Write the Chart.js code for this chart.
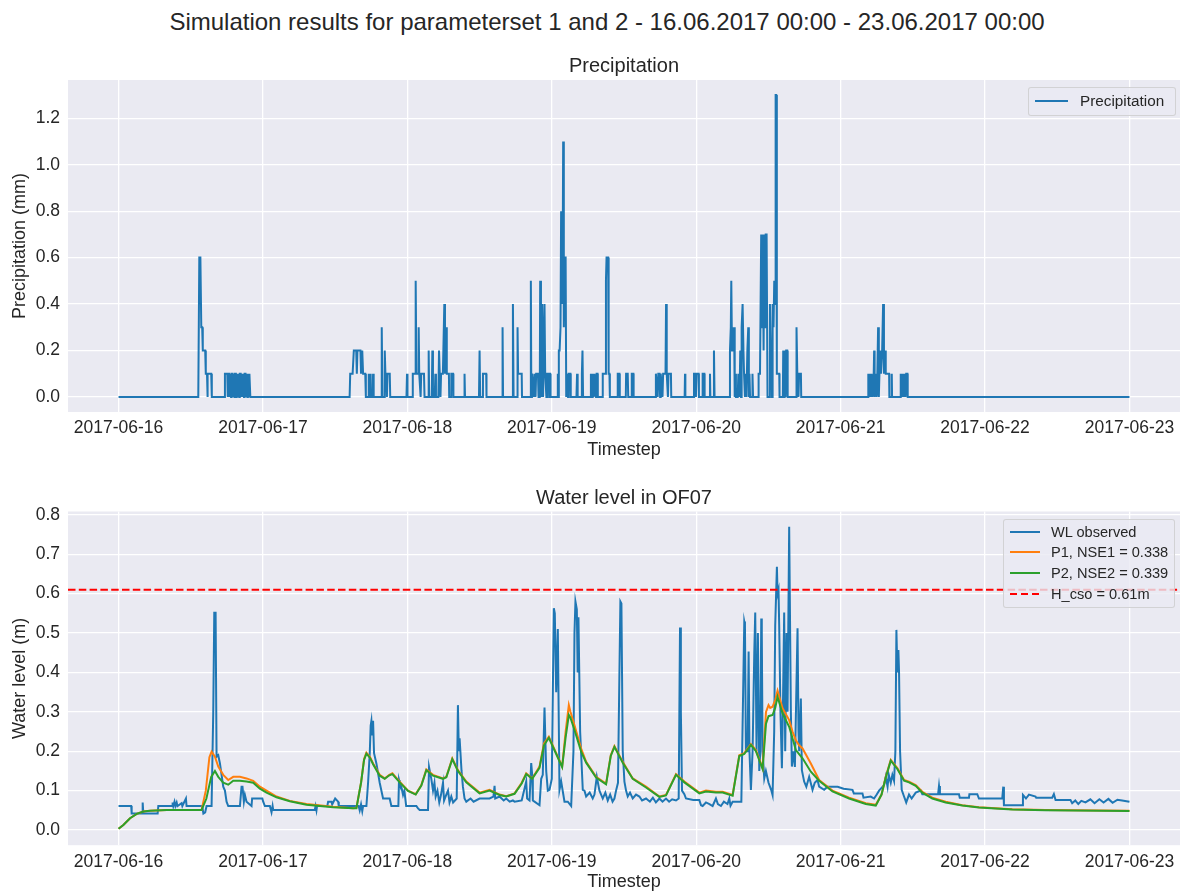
<!DOCTYPE html>
<html>
<head>
<meta charset="utf-8">
<title>Simulation results</title>
<script src="https://cdn.jsdelivr.net/npm/chart.js@4.4.0/dist/chart.umd.min.js"></script>
<style>
  body { margin: 0; width: 1181px; height: 891px; position: relative; overflow: hidden; background: #fff;
         font-family: "Liberation Sans", Arial, sans-serif; color: #262626; }
  canvas { position: absolute; left: 0; }
  .txt { position: absolute; white-space: nowrap; transform: translate(-50%, -50%); z-index: 2; }
  .legend { position: absolute; box-sizing: border-box; background: rgba(234, 234, 242, 0.8);
            border: 1px solid rgba(204, 204, 204, 0.8); border-radius: 3px; z-index: 2; }
  .legend .sw { position: absolute; height: 2px; }
  .legend .lbl { position: absolute; white-space: nowrap; transform: translateY(-50%); }
</style>
</head>
<body>
<div class="txt" style="left:607px; top:22px; font-size:24px;">Simulation results for parameterset 1 and 2 - 16.06.2017 00:00 - 23.06.2017 00:00</div>
<div class="txt" style="left:624px; top:65px; font-size:20px;">Precipitation</div>
<div class="txt" style="left:624px; top:497px; font-size:20px;">Water level in OF07</div>

<canvas id="chart-precip" width="1181" height="401" style="top:60px; width:1181px; height:401px;"></canvas>
<canvas id="chart-level" width="1181" height="401" style="top:492px; width:1181px; height:401px;"></canvas>

<div class="legend" id="legend-precip" style="left:1028px; top:87px; width:148px; height:29px; font-size:15.3px;"></div>
<div class="legend" id="legend-level" style="left:1003px; top:519px; width:172px; height:89px; font-size:14.6px;"></div>

<script>
// 横軸: 2017-06-16 00:00 からの経過時間 [h]
const dayTicks = [0, 24, 48, 72, 96, 120, 144, 168];
const dayLabels = ['2017-06-16', '2017-06-17', '2017-06-18', '2017-06-19',
                   '2017-06-20', '2017-06-21', '2017-06-22', '2017-06-23'];
const precipTicks = [0, 0.2, 0.4, 0.6, 0.8, 1.0, 1.2];
const levelTicks = [0, 0.1, 0.2, 0.3, 0.4, 0.5, 0.6, 0.7, 0.8];
const hCso = 0.61;

// 降水量 [h, mm]
const precipSeries = [
  [0,0],[13.25,0],[13.42,0.6],[13.6,0.6],[13.75,0.3],[13.9,0.3],[14.0,0.2],[14.4,0.2],[14.5,0.1],[14.7,0.1],[14.75,0],[14.85,0.1],[15.4,0.1],[15.5,0],
  [17.6,0],[17.68,0.1],[18.07,0.1],[18.15,0],[18.25,0.1],[18.4,0.1],[18.45,0],[18.55,0.1],[18.7,0],[18.8,0.1],[18.95,0.1],[19.0,0],[19.1,0.1],[19.25,0],
  [19.35,0.1],[19.5,0.1],[19.55,0],[19.65,0.1],[19.8,0],[19.9,0.1],[20.05,0],[20.15,0.1],[20.3,0.1],[20.35,0],[20.45,0.1],[20.6,0],[20.7,0.1],[20.85,0],
  [20.95,0.1],[21.1,0.1],[21.15,0],[21.25,0.1],[21.4,0],[21.5,0.1],[21.65,0],[21.75,0.1],[21.83,0.1],[21.9,0],
  [38.4,0],[38.5,0.1],[38.9,0.1],[39.1,0.2],[39.5,0.2],[39.6,0.1],[39.7,0.2],[40.2,0.2],[40.3,0.1],[40.5,0.2],[40.64,0.1],[41.0,0.1],[41.1,0],
  [41.5,0],[41.58,0.1],[41.65,0],[41.8,0.1],[41.9,0],[42.2,0],[42.3,0.1],[42.4,0],
  [43.65,0],[43.74,0.3],[43.85,0],[44.15,0],[44.24,0.2],[44.35,0.1],[44.5,0.1],[44.6,0],[44.7,0.1],[45.07,0.1],[45.15,0],
  [47.85,0],[47.94,0.1],[48.02,0],[48.85,0],[48.9,0.1],[49.27,0.1],[49.38,0.5],[49.5,0.1],[49.8,0.1],[49.88,0.3],[49.97,0.1],[50.2,0],[50.3,0.1],[50.76,0.1],[50.85,0],
  [51.45,0],[51.54,0.2],[51.62,0],[52.05,0],[52.15,0.2],[52.25,0],[52.55,0],[52.65,0.1],[52.75,0],[53.15,0],[53.26,0.2],[53.4,0.2],[53.5,0],[53.6,0.1],[53.9,0.1],
  [54.14,0.4],[54.25,0.1],[54.47,0.3],[54.55,0.1],[54.9,0.1],[54.95,0],[55.25,0],[55.3,0.1],[55.6,0.1],[55.65,0],
  [57.42,0],[57.5,0.1],[57.58,0],[59.9,0],[60.0,0.2],[60.1,0],[60.5,0],[60.56,0.1],[61.1,0.1],[61.15,0],
  [63.75,0],[63.82,0.3],[63.9,0],[65.45,0],[65.54,0.4],[65.65,0],[66.25,0],[66.31,0.3],[66.4,0.1],[67.0,0.1],[67.05,0],
  [68.45,0],[68.52,0.5],[68.6,0],[68.7,0.1],[69.0,0],[69.1,0.1],[69.3,0],[69.4,0.1],[69.7,0.1],[69.8,0],[70.0,0],[70.07,0.5],[70.2,0.3],[70.3,0],
  [70.4,0.4],[70.55,0],[70.79,0.4],[70.9,0.1],[71.1,0],[71.2,0.1],[71.5,0.1],[71.55,0],[71.65,0.1],[71.73,0.1],[71.8,0],
  [72.95,0],[73.0,0.1],[73.08,0],[73.17,0.2],[73.3,0.2],[73.45,0.3],[73.55,0.8],[73.67,0.8],[73.78,0.4],[73.89,1.1],[74.0,0.3],[74.1,0.6],[74.3,0.6],[74.4,0],
  [74.55,0.1],[74.7,0],[74.8,0.1],[75.1,0.1],[75.15,0],
  [76.1,0],[76.2,0.1],[76.3,0],[76.95,0],[77.0,0.1],[77.1,0.2],[77.2,0],
  [78.45,0],[78.5,0.1],[78.7,0],[78.8,0.1],[79.0,0],[79.1,0.1],[79.35,0],[79.45,0.1],[79.6,0.1],[79.65,0],
  [80.4,0],[80.47,0.1],[80.9,0.1],[81.0,0.5],[81.1,0.6],[81.36,0.6],[81.45,0.1],[81.58,0.1],[81.65,0],
  [82.9,0],[82.96,0.1],[83.24,0.1],[83.3,0],[84.3,0],[84.35,0.1],[84.62,0.1],[84.7,0],[85.25,0],[85.29,0.1],[85.56,0.1],[85.6,0],
  [89.25,0],[89.3,0.1],[89.6,0],[89.7,0.1],[89.9,0.1],[90.0,0],[90.1,0.1],[90.4,0],[90.5,0.1],[90.9,0.1],[90.99,0.4],[91.1,0.1],[91.3,0],[91.4,0.1],[91.8,0.1],[91.85,0],
  [94.08,0],[94.14,0.1],[94.2,0],
  [95.58,0],[95.63,0.1],[95.9,0.1],[95.95,0],[96.05,0.1],[96.4,0.1],[96.45,0],[97.0,0],[97.07,0.1],[97.35,0.1],[97.4,0],[98.22,0],[98.29,0.1],[98.35,0],
  [98.88,0],[98.95,0.2],[99.05,0],
  [101.5,0],[101.61,0.2],[101.75,0.3],[101.83,0.5],[101.95,0.2],[102.05,0.3],[102.15,0.2],[102.3,0.3],[102.4,0],[102.5,0.1],[102.6,0],[102.9,0],[103.0,0.1],
  [103.2,0],[103.32,0.2],[103.45,0],[103.55,0.3],[103.71,0.4],[103.85,0.2],[103.95,0.1],[104.1,0],[104.2,0.1],[104.35,0],[104.5,0.2],[104.65,0.3],[104.75,0],
  [104.85,0.1],[104.95,0],[105.3,0],[105.35,0.1],[105.45,0],
  [106.3,0],[106.37,0.1],[106.6,0.1],[106.8,0.7],[106.95,0.3],[107.05,0.7],[107.2,0.2],[107.3,0.7],[107.45,0.3],[107.55,0.7],[107.7,0.7],[107.85,0],
  [108.1,0],[108.25,0.4],[108.4,0.2],[108.52,0.2],[108.6,0],[108.7,0.4],[108.85,0.3],[108.97,0.5],[109.1,0.4],[109.2,1.3],[109.3,1.3],[109.4,0.1],[109.8,0.1],[109.85,0],
  [110.4,0],[110.46,0.2],[110.6,0],[110.7,0.2],[110.85,0],[110.95,0.2],[111.12,0.2],[111.2,0],
  [112.6,0],[112.67,0.3],[112.8,0.1],[113.0,0],[113.1,0.1],[113.4,0.1],[113.45,0],
  [124.55,0],[124.6,0.1],[124.8,0],[124.9,0.1],[125.0,0],[125.15,0.1],[125.3,0],[125.5,0.1],[125.57,0.2],[125.65,0],[125.85,0.1],[126.0,0],[126.1,0.1],
  [126.23,0.3],[126.35,0],[126.45,0.1],[126.6,0.2],[126.7,0.1],[126.9,0.2],[127.06,0.4],[127.2,0.1],[127.39,0.2],[127.5,0.1],[128.06,0.1],[128.1,0],
  [128.45,0],[128.5,0.1],[128.55,0],
  [129.95,0],[129.99,0.1],[130.2,0],[130.3,0.1],[130.5,0],[130.6,0.1],[130.8,0],[130.9,0.1],[131.1,0.1],[131.15,0],[168,0]
];

// 水位 観測値 [h, m]
const observedSeries = [
  [0,0.061],[2.1,0.061],[2.18,0.042],[3.9,0.042],[4.01,0.07],[4.12,0.042],[6.5,0.042],[6.61,0.061],[8.9,0.061],[8.99,0.07],[9.1,0.061],[9.3,0.072],
  [9.45,0.061],[9.66,0.07],[9.8,0.061],[10.48,0.068],[10.6,0.061],[11.2,0.08],[11.3,0.061],[13.9,0.061],[14.1,0.042],[14.4,0.045],[14.63,0.061],[15.46,0.061],
  [15.74,0.3],[15.91,0.554],[16.02,0.54],[16.13,0.554],[16.29,0.186],[16.57,0.19],[16.85,0.169],[17.4,0.11],[17.68,0.1],[17.95,0.072],[18.23,0.061],
  [20.17,0.061],[20.44,0.11],[20.6,0.11],[20.83,0.072],[21.0,0.089],[21.27,0.072],[22.1,0.061],[22.2,0.08],[23.9,0.08],[24.04,0.072],[24.32,0.061],
  [25.15,0.061],[25.42,0.045],[25.6,0.061],[25.7,0.051],[32.61,0.051],[32.75,0.061],[32.89,0.05],[33.0,0.062],[33.44,0.061],[34.7,0.061],[34.83,0.072],
  [35.4,0.072],[35.5,0.065],[35.66,0.07],[36.0,0.08],[36.49,0.072],[36.6,0.061],[39.9,0.061],[40.08,0.05],[40.3,0.065],[40.5,0.048],[40.64,0.061],
  [41.19,0.061],[41.47,0.12],[41.75,0.196],[41.9,0.265],[42.02,0.277],[42.15,0.24],[42.3,0.277],[42.46,0.195],[42.85,0.169],[43.4,0.12],[43.96,0.08],
  [45.06,0.08],[45.34,0.061],[46.5,0.061],[46.61,0.127],[46.72,0.12],[47.0,0.11],[47.28,0.089],[47.5,0.1],[47.8,0.061],[49.49,0.061],[49.77,0.055],
  [50.04,0.051],[51.43,0.051],[51.6,0.16],[51.98,0.13],[52.26,0.1],[52.5,0.12],[52.7,0.085],[53.0,0.1],[53.3,0.07],[53.6,0.09],[53.92,0.12],[54.1,0.075],
  [54.47,0.09],[54.75,0.1],[55.0,0.07],[55.3,0.085],[55.6,0.07],[56.2,0.08],[56.4,0.317],[56.55,0.2],[56.68,0.233],[57.0,0.15],[57.23,0.11],[57.5,0.08],
  [57.79,0.072],[58.5,0.08],[59.0,0.072],[60.0,0.08],[61.66,0.08],[62.3,0.085],[62.49,0.112],[62.6,0.08],[63.32,0.085],[64.0,0.075],[64.43,0.08],
  [65.0,0.072],[65.53,0.075],[65.81,0.072],[67.0,0.075],[67.75,0.123],[67.9,0.08],[68.3,0.075],[68.58,0.17],[68.74,0.14],[68.85,0.075],[69.13,0.072],
  [69.96,0.063],[70.24,0.13],[70.5,0.14],[70.79,0.311],[71.07,0.15],[71.34,0.1],[71.62,0.102],[72.0,0.13],[72.34,0.563],[72.5,0.55],[72.73,0.35],
  [73.0,0.51],[73.28,0.102],[73.56,0.123],[74.11,0.072],[74.66,0.072],[75.22,0.061],[75.6,0.2],[75.77,0.5],[75.93,0.58],[76.16,0.56],[76.3,0.4],
  [76.43,0.54],[76.71,0.25],[77.15,0.102],[77.43,0.1],[77.71,0.085],[78.3,0.095],[78.8,0.08],[79.09,0.09],[79.48,0.135],[79.92,0.1],[80.47,0.08],
  [80.9,0.095],[81.3,0.075],[81.7,0.09],[82.1,0.072],[82.41,0.08],[82.68,0.1],[83.0,0.12],[83.24,0.4],[83.4,0.58],[83.57,0.575],[83.79,0.2],
  [84.07,0.123],[84.34,0.1],[84.62,0.085],[85.0,0.095],[85.45,0.08],[86.0,0.09],[86.56,0.085],[87.0,0.075],[87.66,0.08],[88.3,0.072],[88.8,0.082],
  [89.3,0.07],[89.88,0.08],[90.4,0.072],[90.98,0.08],[91.5,0.072],[92.0,0.078],[92.64,0.075],[93.09,0.08],[93.2,0.3],[93.31,0.514],[93.45,0.3],
  [93.64,0.1],[94.03,0.091],[94.3,0.08],[95.5,0.076],[96.52,0.076],[96.8,0.063],[97.07,0.061],[97.62,0.07],[98.2,0.066],[98.73,0.061],[99.28,0.08],
  [99.6,0.066],[100.11,0.061],[100.6,0.072],[101.2,0.066],[101.5,0.08],[101.7,0.062],[102.05,0.072],[103.5,0.072],[103.99,0.529],[104.1,0.52],
  [104.26,0.2],[104.54,0.2],[104.71,0.453],[104.85,0.2],[105.09,0.102],[105.37,0.2],[105.65,0.45],[105.81,0.552],[106.03,0.2],[106.25,0.5],
  [106.48,0.15],[106.65,0.2],[106.81,0.537],[106.9,0.5],[107.03,0.2],[107.31,0.131],[107.58,0.15],[108.02,0.12],[108.5,0.1],[108.69,0.089],
  [108.96,0.25],[109.13,0.52],[109.41,0.668],[109.52,0.6],[109.68,0.61],[109.79,0.52],[110.0,0.3],[110.24,0.157],[110.4,0.3],[110.62,0.552],
  [110.79,0.2],[111.01,0.5],[111.18,0.3],[111.45,0.77],[111.73,0.3],[111.9,0.161],[112.12,0.2],[112.4,0.16],[112.84,0.512],[113.0,0.25],[113.11,0.2],
  [113.39,0.334],[113.56,0.152],[113.94,0.123],[114.3,0.11],[114.77,0.135],[115.33,0.102],[115.7,0.12],[116.16,0.127],[116.43,0.11],[117.26,0.102],
  [117.82,0.11],[119.5,0.11],[120.5,0.105],[121.97,0.102],[122.2,0.093],[123.63,0.093],[123.8,0.082],[125.0,0.085],[125.56,0.08],[126.0,0.09],
  [126.39,0.1],[127.22,0.114],[127.5,0.135],[127.8,0.11],[128.0,0.14],[128.33,0.12],[128.6,0.14],[128.88,0.125],[129.1,0.2],[129.27,0.508],[129.43,0.4],
  [129.6,0.457],[129.71,0.4],[129.88,0.2],[130.15,0.102],[130.54,0.085],[130.9,0.07],[131.37,0.09],[131.8,0.08],[132.48,0.095],[133.31,0.1],
  [133.58,0.091],[136.2,0.091],[136.35,0.112],[136.5,0.091],[139.67,0.091],[139.8,0.082],[141.33,0.082],[141.4,0.091],[142.71,0.091],[142.99,0.08],
  [146.86,0.08],[147.03,0.11],[147.14,0.063],[150.18,0.063],[150.3,0.089],[150.8,0.08],[151.3,0.09],[152.39,0.085],[152.5,0.082],[155.16,0.082],
  [155.44,0.091],[155.72,0.076],[158.2,0.076],[158.48,0.068],[159.0,0.075],[159.5,0.066],[160.0,0.074],[160.69,0.07],[161.5,0.078],[162.2,0.068],
  [163.0,0.078],[163.7,0.07],[164.5,0.079],[165.2,0.069],[166.0,0.077],[166.78,0.075],[168,0.072]
];

// シミュレーション P1 [h, m]
const p1Series = [
  [0,0.003],[0.8,0.013],[1.91,0.03],[3.02,0.041],[4.12,0.047],[5.23,0.049],[8.0,0.051],[13.8,0.051],[14.5,0.1],[15.1,0.185],[15.46,0.199],[16.02,0.186],
  [16.57,0.161],[17.4,0.14],[18.23,0.127],[19.06,0.135],[20.17,0.135],[21.27,0.131],[22.38,0.125],[23.49,0.11],[24.59,0.1],[26.25,0.085],[28.46,0.074],
  [31.23,0.066],[35.66,0.059],[38.98,0.055],[39.53,0.056],[40.3,0.12],[40.8,0.18],[41.19,0.196],[41.8,0.185],[42.3,0.169],[43.4,0.14],[44.23,0.131],
  [45.0,0.14],[45.51,0.144],[46.72,0.123],[48.11,0.1],[49.38,0.091],[50.32,0.114],[51.15,0.154],[52.26,0.14],[53.92,0.131],[54.47,0.135],[55.46,0.182],
  [56.4,0.152],[57.79,0.123],[60.0,0.095],[61.66,0.102],[63.32,0.09],[64.43,0.086],[65.81,0.093],[67.0,0.12],[67.75,0.144],[68.74,0.131],[69.96,0.161],
  [70.7,0.22],[71.51,0.237],[72.73,0.195],[73.72,0.161],[74.3,0.25],[74.83,0.317],[75.1,0.3],[75.77,0.266],[76.88,0.207],[77.71,0.173],[79.36,0.135],
  [81.02,0.118],[81.8,0.19],[82.41,0.213],[83.79,0.173],[85.45,0.131],[87.66,0.11],[89.88,0.085],[90.98,0.089],[92.64,0.142],[94.03,0.123],[96.52,0.095],
  [97.62,0.1],[99.28,0.097],[100.4,0.097],[102.05,0.089],[103.16,0.19],[103.99,0.195],[105.09,0.218],[105.92,0.203],[107.03,0.157],[107.6,0.3],
  [108.02,0.317],[108.3,0.31],[108.69,0.313],[109.13,0.33],[109.52,0.354],[110.35,0.309],[111.45,0.279],[112.0,0.25],[112.56,0.228],[113.1,0.215],
  [113.67,0.207],[115.05,0.169],[116.43,0.127],[118.65,0.1],[121.41,0.082],[124.18,0.068],[125.84,0.064],[126.8,0.09],[127.5,0.135],[128.33,0.178],
  [129.43,0.157],[130.54,0.127],[131.37,0.123],[132.48,0.114],[133.58,0.097],[135.24,0.082],[137.46,0.072],[140.22,0.063],[142.99,0.058],[148.52,0.053],
  [154.05,0.051],[168,0.049]
];

// シミュレーション P2 [h, m]
const p2Series = [
  [0,0.003],[0.8,0.013],[1.91,0.03],[3.02,0.041],[4.12,0.047],[5.23,0.049],[8.0,0.051],[13.8,0.051],[14.6,0.08],[15.4,0.135],[16.02,0.15],[16.57,0.135],
  [16.85,0.13],[17.4,0.12],[18.23,0.115],[19.06,0.125],[20.17,0.125],[21.27,0.123],[22.38,0.12],[23.49,0.105],[24.59,0.095],[26.25,0.083],[28.46,0.073],
  [31.23,0.064],[35.66,0.058],[38.98,0.055],[39.53,0.055],[40.3,0.12],[40.8,0.178],[41.19,0.194],[41.8,0.183],[42.3,0.167],[43.4,0.138],[44.23,0.13],
  [45.0,0.139],[45.51,0.142],[46.72,0.121],[48.11,0.099],[49.38,0.09],[50.32,0.113],[51.15,0.152],[52.26,0.138],[53.92,0.13],[54.47,0.134],[55.46,0.18],
  [56.4,0.15],[57.79,0.121],[60.0,0.093],[61.66,0.1],[63.32,0.089],[64.43,0.085],[65.81,0.092],[67.0,0.118],[67.75,0.142],[68.74,0.13],[69.96,0.158],
  [70.7,0.215],[71.51,0.234],[72.73,0.193],[73.72,0.16],[74.3,0.235],[74.83,0.292],[75.1,0.285],[75.77,0.254],[76.88,0.199],[77.71,0.171],[79.36,0.133],
  [81.02,0.116],[81.8,0.188],[82.41,0.211],[83.79,0.171],[85.45,0.13],[87.66,0.108],[89.88,0.084],[90.98,0.088],[92.64,0.14],[94.03,0.121],[96.52,0.093],
  [97.62,0.098],[99.28,0.095],[100.4,0.095],[102.05,0.087],[103.16,0.188],[103.99,0.193],[105.09,0.216],[105.92,0.2],[107.03,0.155],[107.6,0.27],
  [108.02,0.289],[108.69,0.292],[109.13,0.31],[109.52,0.338],[110.35,0.296],[111.45,0.262],[112.56,0.203],[113.67,0.182],[115.05,0.148],[116.43,0.125],
  [118.65,0.098],[121.41,0.08],[124.18,0.066],[125.84,0.062],[126.8,0.09],[127.5,0.133],[128.33,0.176],[129.43,0.155],[130.54,0.125],[131.37,0.121],
  [132.48,0.112],[133.58,0.095],[135.24,0.08],[137.46,0.07],[140.22,0.062],[142.99,0.057],[148.52,0.052],[154.05,0.05],[168,0.048]
];

const FONT = '"Liberation Sans", Arial, sans-serif';
const TEXT = '#262626';
const X_MIN = -8.4, X_MAX = 176.4;

const toPoints = series => series.map(([x, y]) => ({ x, y }));

// 描画領域の背景（seaborn darkgrid 風）
const areaBg = {
  id: 'areaBg',
  beforeDraw(chart) {
    const { ctx, chartArea: a } = chart;
    ctx.save();
    ctx.fillStyle = '#eaeaf2';
    ctx.fillRect(a.left, a.top, a.right - a.left, a.bottom - a.top);
    ctx.restore();
  }
};

function buildOptions(cfg) {
  return {
    responsive: false,
    animation: false,
    events: [],
    layout: { padding: { top: cfg.padTop, right: 1, left: 0, bottom: 0 } },
    elements: { point: { radius: 0 }, line: { tension: 0 } },
    plugins: { legend: { display: false }, tooltip: { enabled: false } },
    scales: {
      x: {
        type: 'linear', min: X_MIN, max: X_MAX,
        afterBuildTicks: s => { s.ticks = dayTicks.map(v => ({ value: v })); },
        afterFit: s => { s.height = cfg.xHeight; },
        ticks: { callback: (v, i) => dayLabels[i], maxRotation: 0, autoSkip: false, padding: 6,
                 color: TEXT, font: { family: FONT, size: 17.5 } },
        grid: { color: '#ffffff', lineWidth: 1.3, drawTicks: false },
        border: { display: false },
        title: { display: true, text: 'Timestep', color: TEXT, padding: 0, font: { family: FONT, size: 18 } }
      },
      y: {
        type: 'linear', min: cfg.yMin, max: cfg.yMax,
        afterBuildTicks: s => { s.ticks = cfg.yTicks.map(v => ({ value: v })); },
        afterFit: s => { s.width = 68; },
        ticks: { callback: (v, i) => cfg.yTicks[i].toFixed(1), padding: 8,
                 color: TEXT, font: { family: FONT, size: 17.5 } },
        grid: { color: '#ffffff', lineWidth: 1.3, drawTicks: false },
        border: { display: false },
        title: { display: true, text: cfg.yTitle, color: TEXT, padding: { top: 9, bottom: 0 },
                 font: { family: FONT, size: 18 } }
      }
    }
  };
}

new Chart(document.getElementById('chart-precip'), {
  type: 'line',
  data: {
    datasets: [{
      label: 'Precipitation',
      data: toPoints(precipSeries),
      borderColor: '#1f77b4', borderWidth: 2, fill: false
    }]
  },
  options: buildOptions({ padTop: 20, xHeight: 49, yMin: -0.065, yMax: 1.365,
                          yTicks: precipTicks, yTitle: 'Precipitation (mm)' }),
  plugins: [areaBg]
});

new Chart(document.getElementById('chart-level'), {
  type: 'line',
  data: {
    datasets: [
      { label: 'WL observed', data: toPoints(observedSeries), borderColor: '#1f77b4', borderWidth: 2, order: 4 },
      { label: 'P1, NSE1 = 0.338', data: toPoints(p1Series), borderColor: '#ff7f0e', borderWidth: 2, order: 3 },
      { label: 'P2, NSE2 = 0.339', data: toPoints(p2Series), borderColor: '#2ca02c', borderWidth: 2, order: 2 },
      { label: 'H_cso = 0.61m', data: [{ x: X_MIN, y: hCso }, { x: X_MAX, y: hCso }],
        borderColor: '#ff0000', borderWidth: 2, borderDash: [7.5, 3.3], order: 1 }
    ]
  },
  options: buildOptions({ padTop: 19.5, xHeight: 47.8, yMin: -0.0385, yMax: 0.8085,
                          yTicks: levelTicks, yTitle: 'Water level (m)' }),
  plugins: [areaBg]
});

// 凡例（matplotlib 風の半透明ボックス）
function renderLegend(id, items, rowTop, rowGap, swLeft, swWidth, textLeft) {
  const box = document.getElementById(id);
  items.forEach((it, i) => {
    const y = rowTop + i * rowGap;
    const sw = document.createElement('div');
    sw.className = 'sw';
    sw.style.left = swLeft + 'px';
    sw.style.width = swWidth + 'px';
    sw.style.top = (y - 1) + 'px';
    sw.style.background = it.dashed
      ? `repeating-linear-gradient(to right, ${it.color} 0 7.5px, transparent 7.5px 10.8px)`
      : it.color;
    box.appendChild(sw);
    const lbl = document.createElement('div');
    lbl.className = 'lbl';
    lbl.style.left = textLeft + 'px';
    lbl.style.top = y + 'px';
    lbl.textContent = it.label;
    box.appendChild(lbl);
  });
}

renderLegend('legend-precip', [{ label: 'Precipitation', color: '#1f77b4' }], 13, 0, 6, 33, 51);
renderLegend('legend-level', [
  { label: 'WL observed', color: '#1f77b4' },
  { label: 'P1, NSE1 = 0.338', color: '#ff7f0e' },
  { label: 'P2, NSE2 = 0.339', color: '#2ca02c' },
  { label: 'H_cso = 0.61m', color: '#ff0000', dashed: true }
], 11.5, 20.7, 6, 30, 47);
</script>
</body>
</html>
